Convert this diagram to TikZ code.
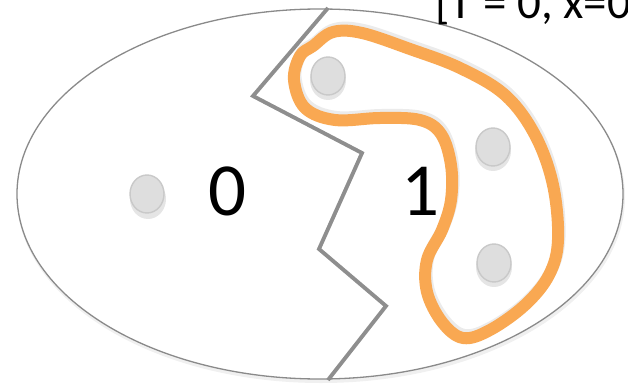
\documentclass[tikz,border=0pt]{standalone}
\usepackage{fontspec}
\setmainfont{Carlito}
\usetikzlibrary{shapes.geometric}
\definecolor{ringgray}{HTML}{8A8A8A}
\definecolor{cutgray}{HTML}{8E8E8E}
\definecolor{dotfill}{HTML}{DEDEDE}
\definecolor{dotedge}{HTML}{C9C9C9}
\definecolor{blob}{HTML}{F9A852}
\tikzset{
  ring/.style={draw=ringgray, line width=1.3pt},
  cutline/.style={draw=cutgray, line width=3.8pt, line join=miter},
  dot/.style={ellipse, draw=dotedge, fill=dotfill, line width=1.4pt, minimum width=34pt, minimum height=38pt, inner sep=0pt},
  dotshadow/.style={ellipse, fill=black, opacity=0.10, minimum width=36pt, minimum height=40pt, inner sep=0pt},
  bigdigit/.style={anchor=base, inner sep=0pt, font=\fontsize{75}{80}\selectfont},
  toptext/.style={anchor=base west, inner sep=0pt, font=\fontsize{47}{52}\selectfont},
  group/.style={draw=blob, line width=12pt, line join=round},
}
\begin{document}
\begin{tikzpicture}[x=1pt,y=-1pt]
\useasboundingbox (0,0) rectangle (628,385);
\clip (0,0) rectangle (628,385);
\fill[white] (0,0) rectangle (628,385);
% soft shadow of the outer ellipse
\fill[black, opacity=0.06] (321,197) ellipse [x radius=304, y radius=186];
\fill[white] (320,194) ellipse [x radius=303, y radius=185];
\node[ellipse, ring, minimum width=606pt, minimum height=370pt, inner sep=0pt] (outer) at (320,194) {};
% top label
\node[toptext] (label) at (435,18.5) {[T = 0, x=0]};
% dots with shadows
\node[dotshadow] at (148,199) {};
\node[dotshadow] at (328,80) {};
\node[dotshadow] at (493,151) {};
\node[dotshadow] at (494,267) {};
\node[dot] (d0) at (147,194) {};
\node[dot] (d1) at (328,76) {};
\node[dot] (d2) at (493,147) {};
\node[dot] (d3) at (494,263) {};
% cut line
\coordinate (c0) at (328,8);
\coordinate (c1) at (253,96);
\coordinate (c2) at (362,153);
\coordinate (c3) at (319,249);
\coordinate (c4) at (386,306);
\coordinate (c5) at (328,380);
\draw[cutline, draw=black, opacity=0.10, shift={(1.5,-3)}] (c0) -- (c1) -- (c2) -- (c3) -- (c4) -- (c5);
\draw[cutline] (c0) -- (c1) -- (c2) -- (c3) -- (c4) -- (c5);
% digits
\node[bigdigit] (zero) at (228,215) {0};
\node[bigdigit] (one) at (420,215) {1};
% orange grouping
\draw[group, draw=black, opacity=0.08, shift={(1.5,-3)}] plot[smooth cycle, tension=0.6] coordinates {
 (294,80) (300,56) (313,46) (333,32) (362,33) (410,49) (460,68) (505,95) (535,135) (553,185)
 (558,240) (549,275) (525,305) (490,330) (463,338) (442,322) (427,292) (427,260) (442,230)
 (451,200) (451,165) (441,134) (420,120) (380,118) (335,120) (305,108)};
\draw[group] plot[smooth cycle, tension=0.6] coordinates {
 (294,80) (300,56) (313,46) (333,32) (362,33) (410,49) (460,68) (505,95) (535,135) (553,185)
 (558,240) (549,275) (525,305) (490,330) (463,338) (442,322) (427,292) (427,260) (442,230)
 (451,200) (451,165) (441,134) (420,120) (380,118) (335,120) (305,108)};
\end{tikzpicture}
\end{document}
